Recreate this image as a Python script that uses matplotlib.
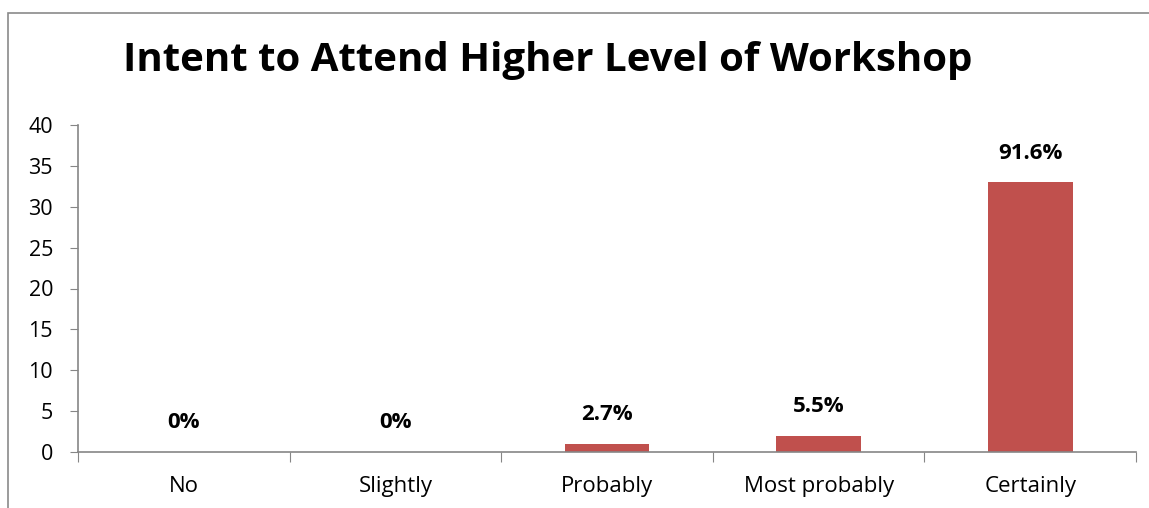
import matplotlib
matplotlib.use("Agg")
from matplotlib import pyplot as plt
from matplotlib.patches import Rectangle

# survey responses (counts) and the percentage labels shown over each bar
categories = ["No", "Slightly", "Probably", "Most probably", "Certainly"]
counts = [0, 0, 1, 2, 33]
pct_labels = ["0%", "0%", "2.7%", "5.5%", "91.6%"]
yticks = [0, 5, 10, 15, 20, 25, 30, 35, 40]

plt.rcParams['font.family'] = ['Open Sans', 'DejaVu Sans']

W, H = 1149, 508
fig = plt.figure(figsize=(W / 100, H / 100), dpi=100)
fig.patch.set_facecolor('white')

# outer chart frame (runs off the right and bottom edges)
frame = Rectangle((8 / W, -0.05), 1.2, 1 - 13 / H + 0.05, transform=fig.transFigure,
                  fill=False, edgecolor='#8a8a8a', linewidth=1.2)
fig.patches.append(frame)

ax = fig.add_axes([78 / W, (H - 452) / H, (1136 - 78) / W, (452 - 125) / H])
x = range(len(categories))
ax.bar(x, counts, width=0.4, color='#C0504D')

ax.set_xlim(-0.5, len(categories) - 0.5)
ax.set_ylim(0, 40)
ax.set_yticks(yticks)
ax.tick_params(axis='y', labelsize=15.5, length=6, color='#868686', pad=12)

# category boundaries carry the x ticks, names sit between them
ax.set_xticks([i - 0.5 for i in range(len(categories) + 1)])
ax.set_xticklabels([])
ax.set_xticks(list(x), minor=True)
ax.set_xticklabels(categories, minor=True, fontsize=16)
ax.tick_params(axis='x', which='major', length=7, color='#868686')
ax.tick_params(axis='x', which='minor', length=0, pad=17)

for side in ['top', 'right']:
    ax.spines[side].set_visible(False)
for side in ['left', 'bottom']:
    ax.spines[side].set_color('#868686')
    ax.spines[side].set_linewidth(1.2)

for i, (c, lab) in enumerate(zip(counts, pct_labels)):
    ax.annotate(lab, (i, c), xytext=(0, 21), textcoords='offset points',
                ha='center', va='center', fontsize=16, fontweight='bold')

fig.text(548 / W, 1 - 61 / H, "Intent to Attend Higher Level of Workshop",
         ha='center', va='center', fontsize=29, fontweight='bold')

fig.savefig('out.png', dpi=100)
